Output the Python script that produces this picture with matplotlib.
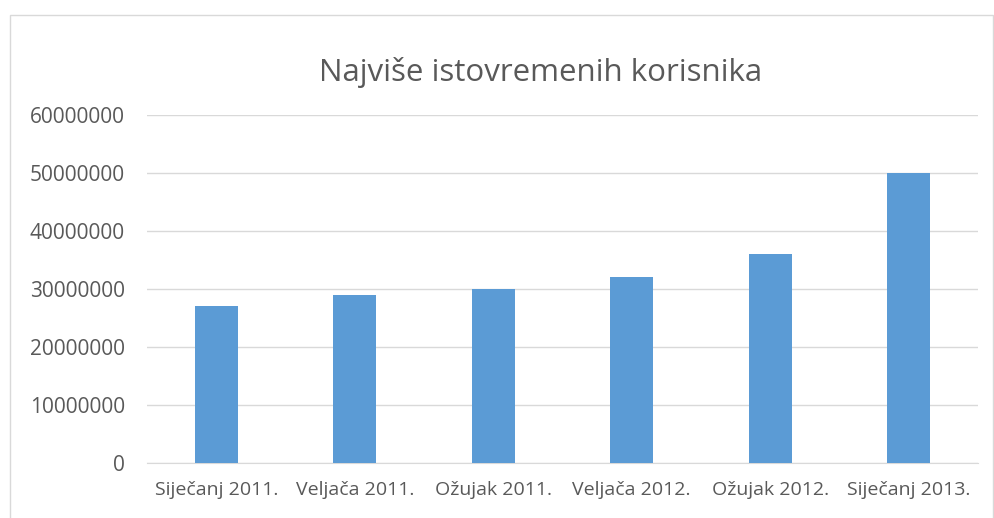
import matplotlib.pyplot as plt
from matplotlib.patches import Rectangle

categories = ['Siječanj 2011.', 'Veljača 2011.', 'Ožujak 2011.',
              'Veljača 2012.', 'Ožujak 2012.', 'Siječanj 2013.']
users = [27000000, 29000000, 30000000, 32000000, 36000000, 50000000]
yticks = [0, 10000000, 20000000, 30000000, 40000000, 50000000, 60000000]

plt.rcParams['font.family'] = ['Open Sans', 'DejaVu Sans']

fig = plt.figure(figsize=(9.95, 5.18), dpi=100)
ax = fig.add_axes([147 / 995, 1 - 463 / 518, (978 - 147) / 995, 348 / 518])

# chart border
fig.patches.append(Rectangle((10 / 995, -0.1), 983 / 995, 1.1 - 15 / 518,
                             transform=fig.transFigure, fill=False,
                             edgecolor='#d9d9d9', linewidth=1))

x = range(len(categories))
ax.bar(x, users, width=0.31, color='#5b9bd5', zorder=3)

ax.set_xlim(-0.5, len(categories) - 0.5)
ax.set_ylim(0, 60000000)
ax.set_yticks(yticks)
ax.set_yticklabels([str(v) for v in yticks])
ax.set_xticks(list(x))
ax.set_xticklabels(categories)

ax.grid(axis='y', color='#d9d9d9', linewidth=1, zorder=0)
for s in ['top', 'right', 'left']:
    ax.spines[s].set_visible(False)
ax.spines['bottom'].set_color('#d9d9d9')
ax.tick_params(axis='both', length=0, colors='#595959')
ax.tick_params(axis='y', pad=16, labelsize=15)
ax.tick_params(axis='x', pad=13, labelsize=14)

fig.text(541 / 995, 1 - 73 / 518, 'Najviše istovremenih korisnika',
         ha='center', va='center', fontsize=22.5, color='#595959')

fig.savefig('out.png', dpi=100)
